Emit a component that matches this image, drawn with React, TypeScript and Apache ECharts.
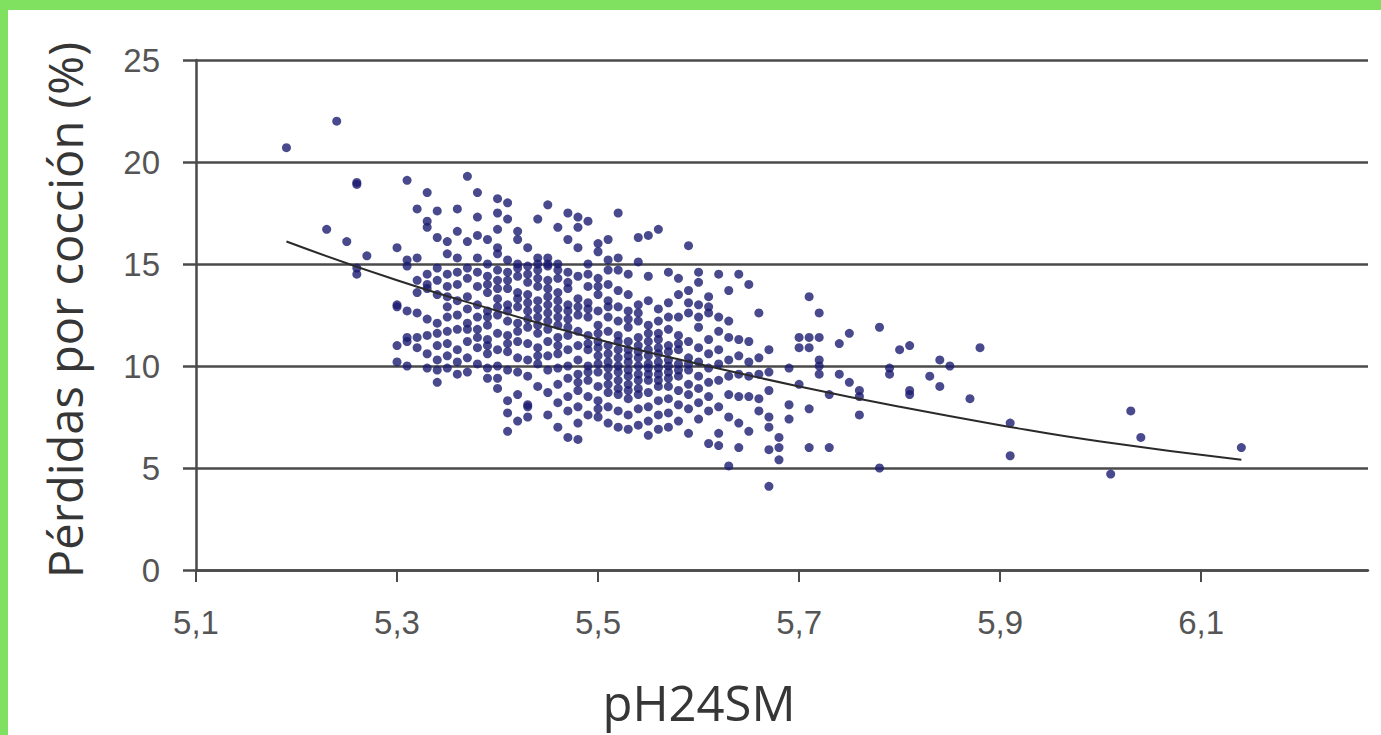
import React, { useEffect, useRef } from 'react';
import * as echarts from 'echarts';

const xTickValues = [5.1, 5.3, 5.5, 5.7, 5.9, 6.1];
const yTickValues = [0, 5, 10, 15, 20, 25];
const xTitle = 'pH24SM';
const yTitle = 'Pérdidas por cocción (%)';

// scatter points, grouped by pH column: [pH, losses]
const outerLeft: [number, number[]][] = [
  [5.19, [20.7]],
  [5.23, [16.7]],
  [5.24, [22.0]],
  [5.25, [16.1]],
  [5.26, [19.0, 18.9, 14.8, 14.5]],
  [5.27, [15.4]],
  [5.30, [15.8, 13.0, 12.9, 11.0, 10.2]],
  [5.31, [19.1, 15.2, 14.9, 12.7, 11.4, 10.0, 11.2]],
  [5.32, [17.7, 15.3, 14.2, 11.4, 10.9, 12.6, 13.6]],
  [5.33, [18.5, 17.1, 16.8, 14.5, 14.0, 13.8, 12.3, 11.5, 9.9, 10.6]],
  [5.34, [17.6, 16.3, 14.2, 13.5, 12.1, 11.0, 10.3, 9.2, 9.8, 14.8, 11.6]],
  [5.35, [16.1, 15.5, 14.5, 13.9, 12.9, 12.4, 11.7, 10.5, 9.9, 13.4, 11.1]],
  [5.36, [17.7, 16.6, 15.3, 14.0, 13.2, 12.5, 11.8, 10.8, 9.6, 10.2, 14.6]],
  [5.37, [19.3, 16.1, 14.8, 14.3, 13.4, 12.1, 11.2, 10.4, 9.7, 11.8, 12.8]],
  [5.38, [18.5, 17.3, 16.4, 15.3, 14.6, 13.9, 13.0, 11.8, 11.4, 10.9, 10.1, 12.4]],
  [5.39, [16.2, 15.0, 14.4, 13.6, 12.7, 12.0, 11.3, 10.6, 9.9, 9.4, 12.4, 14.0, 11.0]],
];

const core: [number, number[]][] = [
  [5.40, [18.2, 17.5, 16.7, 15.8, 15.5, 14.2, 13.3, 12.5, 11.6, 10.8, 10.0, 9.4, 8.9, 13.8, 12.9, 14.7]],
  [5.41, [18.0, 17.2, 15.2, 14.6, 13.8, 13.0, 12.2, 11.5, 10.7, 9.8, 8.3, 6.8, 7.7, 12.7, 14.2, 11.1]],
  [5.42, [16.6, 16.2, 15.0, 14.4, 13.6, 12.9, 12.1, 11.2, 10.4, 9.7, 8.6, 7.3, 11.7, 13.3, 14.8]],
  [5.43, [15.8, 14.9, 14.1, 13.5, 12.7, 11.9, 11.1, 10.3, 9.5, 8.1, 7.5, 8.0, 13.1, 12.3, 14.5]],
  [5.44, [17.2, 15.3, 14.7, 13.9, 13.2, 12.4, 11.6, 10.9, 10.1, 9.0, 12.0, 14.3, 12.8, 15.0, 10.5]],
  [5.45, [17.9, 15.3, 14.9, 14.2, 13.4, 12.6, 11.8, 11.2, 10.5, 9.8, 8.7, 7.6, 13.0, 15.0, 13.8, 12.2]],
  [5.46, [16.8, 15.0, 14.3, 13.6, 12.8, 12.0, 11.4, 10.6, 9.9, 9.1, 8.2, 7.0, 14.7, 12.4, 13.2, 11.0]],
  [5.47, [17.5, 16.2, 14.6, 13.8, 13.0, 12.3, 11.5, 10.8, 10.0, 9.4, 8.5, 7.8, 6.5, 14.1, 12.7, 11.9]],
  [5.48, [17.3, 16.8, 15.8, 13.3, 12.5, 11.7, 11.0, 10.3, 9.6, 8.8, 8.0, 7.2, 6.4, 14.4, 12.9, 9.2]],
  [5.49, [17.1, 15.0, 13.9, 13.1, 12.4, 11.5, 10.8, 10.0, 9.3, 8.5, 7.6, 12.8, 14.5, 11.1, 9.7]],
  [5.50, [16.0, 15.6, 14.3, 13.5, 12.7, 12.0, 11.2, 10.5, 9.7, 9.0, 8.3, 7.5, 7.9, 13.9, 10.9, 10.1, 11.6]],
  [5.51, [16.2, 14.7, 14.0, 13.2, 12.4, 11.7, 11.0, 10.2, 9.5, 8.7, 8.0, 7.2, 15.2, 12.9, 10.6, 9.9, 9.1]],
  [5.52, [17.5, 15.3, 13.7, 12.9, 12.2, 11.5, 10.8, 10.0, 9.3, 8.6, 7.8, 7.0, 14.7, 11.2, 9.7, 10.4, 8.9]],
  [5.53, [14.5, 13.5, 12.7, 11.9, 11.2, 10.5, 9.8, 9.1, 8.4, 7.6, 6.9, 10.2, 12.3, 9.5, 10.8, 8.8]],
  [5.54, [16.3, 15.1, 13.0, 12.2, 11.4, 10.7, 10.0, 9.3, 8.6, 7.9, 7.1, 9.6, 10.4, 11.0, 8.9, 12.6]],
  [5.55, [16.4, 14.4, 13.2, 12.0, 11.2, 10.5, 9.9, 9.3, 8.7, 8.0, 7.3, 6.6, 10.1, 9.6, 10.8, 11.6]],
  [5.56, [16.7, 12.8, 11.6, 10.9, 10.2, 9.6, 9.0, 8.3, 7.6, 6.9, 9.9, 10.6, 9.3, 12.2, 11.3]],
  [5.57, [14.6, 13.1, 11.8, 11.0, 10.3, 9.7, 9.0, 8.4, 7.7, 7.0, 12.4, 10.0, 9.4, 10.7]],
  [5.58, [14.3, 12.4, 11.5, 10.8, 10.1, 9.5, 8.8, 8.1, 7.3, 13.5, 9.8, 11.1]],
  [5.59, [15.9, 13.7, 12.6, 11.2, 10.4, 9.8, 9.1, 8.6, 7.9, 6.7, 13.1, 10.1]],
  [5.60, [14.6, 14.1, 13.0, 11.9, 10.9, 10.2, 9.5, 8.9, 8.2, 7.4, 12.4]],
];

const outerRight: [number, number[]][] = [
  [5.61, [13.4, 12.9, 12.6, 11.3, 10.6, 9.9, 9.2, 8.5, 7.8, 6.2]],
  [5.62, [14.5, 12.4, 11.7, 10.8, 9.3, 8.0, 6.7, 6.1, 10.1]],
  [5.63, [13.7, 11.4, 10.3, 9.5, 8.6, 7.5, 5.1, 12.2]],
  [5.64, [14.5, 11.3, 9.6, 8.5, 7.2, 6.0, 10.5]],
  [5.65, [14.0, 11.2, 10.2, 9.5, 8.5, 6.8]],
  [5.66, [12.6, 10.4, 9.6, 8.4, 7.8]],
  [5.67, [10.8, 9.7, 8.8, 7.5, 7.0, 5.9, 4.1]],
  [5.68, [6.5, 6.0, 5.4]],
  [5.69, [9.9, 8.1, 7.4]],
  [5.70, [11.4, 10.9, 9.1]],
  [5.71, [13.4, 11.4, 10.9, 7.9, 6.0]],
  [5.72, [12.6, 11.4, 10.3, 10.0, 9.6]],
  [5.73, [6.0, 8.6]],
  [5.74, [11.1, 9.6]],
  [5.75, [11.6, 9.2]],
  [5.76, [8.8, 8.5, 7.6]],
  [5.78, [11.9, 5.0]],
  [5.79, [9.9, 9.6]],
  [5.80, [10.8]],
  [5.81, [11.0, 8.8, 8.6]],
  [5.83, [9.5]],
  [5.84, [10.3, 9.0]],
  [5.85, [10.0]],
  [5.87, [8.4]],
  [5.88, [10.9]],
  [5.91, [7.2, 5.6]],
  [6.01, [4.7]],
  [6.03, [7.8]],
  [6.04, [6.5]],
  [6.14, [6.0]],
];

// trend line (exponential fit)
const trendPH = [5.19, 5.3, 5.4, 5.5, 5.6, 5.7, 5.8, 5.9, 6.0, 6.14];
const trendLoss = [16.1, 14.2, 12.7, 11.3, 10.1, 9.0, 8.0, 7.1, 6.3, 5.4];

export default function App() {
  const ref = useRef<HTMLDivElement>(null);
  useEffect(() => {
    document.body.style.margin = '0';
    const chart = echarts.init(ref.current!, null, { renderer: 'svg' });
    const points: number[][] = [];
    [...outerLeft, ...core, ...outerRight].forEach(([ph, ys]) => {
      ys.forEach((y) => points.push([ph, y]));
    });
    const trend = trendPH.map((p, i) => [p, trendLoss[i]]);
    const fmt = (v: number) => String(Math.round(v * 10) / 10).replace('.', ',');
    const tickFont = 'Liberation Sans, Arial, sans-serif';
    const titleFont = 'Open Sans, Lato, sans-serif';
    chart.setOption({
      animation: false,
      backgroundColor: '#ffffff',
      grid: { left: 188, top: 50, right: 13, bottom: 165 },
      xAxis: {
        type: 'value',
        min: 5.1,
        max: 6.266,
        interval: 0.2,
        axisLine: { show: true, lineStyle: { color: '#4a4a4a', width: 2.5 } },
        axisTick: { show: true, length: 12, customValues: xTickValues, lineStyle: { color: '#4a4a4a', width: 2 } },
        axisLabel: {
          customValues: xTickValues,
          formatter: fmt,
          margin: 36,
          color: '#555',
          fontSize: 33,
          fontFamily: tickFont,
        },
        splitLine: { show: false },
      },
      yAxis: {
        type: 'value',
        min: yTickValues[0],
        max: yTickValues[yTickValues.length - 1],
        interval: 5,
        axisLine: { show: true, onZero: false, lineStyle: { color: '#4a4a4a', width: 2.5 } },
        axisTick: { show: true, length: 13, lineStyle: { color: '#4a4a4a', width: 2.5 } },
        axisLabel: {
          formatter: (v: number) => String(v),
          margin: 36,
          color: '#555',
          fontSize: 33,
          fontFamily: tickFont,
        },
        splitLine: { show: true, lineStyle: { color: '#4a4a4a', width: 2.5 } },
      },
      graphic: [
        {
          type: 'text',
          x: 57,
          y: 300,
          rotation: Math.PI / 2,
          style: {
            text: yTitle,
            fontSize: 47,
            fontFamily: titleFont,
            fill: '#363636',
            align: 'center',
            verticalAlign: 'middle',
          },
        },
        {
          type: 'text',
          x: 691,
          y: 692,
          style: {
            text: xTitle,
            fontSize: 49,
            fontFamily: titleFont,
            fill: '#363636',
            align: 'center',
            verticalAlign: 'middle',
          },
        },
      ],
      series: [
        {
          type: 'scatter',
          data: points,
          symbol: 'circle',
          symbolSize: 9,
          itemStyle: { color: '#1c1c70' },
          z: 3,
        },
        {
          type: 'line',
          data: trend,
          smooth: true,
          showSymbol: false,
          symbol: 'none',
          lineStyle: { color: '#2a2a2a', width: 2 },
          z: 4,
        },
      ],
    });
    return () => chart.dispose();
  }, []);
  return (
    <div style={{ position: 'fixed', left: 0, top: 0, width: 1381, height: 735, background: '#80e060' }}>
      <div ref={ref} style={{ position: 'absolute', left: 8, top: 10, width: 1373, height: 725, background: '#ffffff' }} />
    </div>
  );
}
